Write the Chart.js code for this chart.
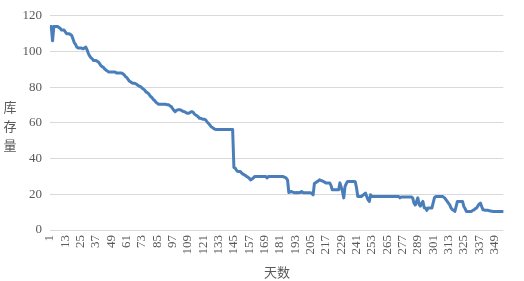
<!DOCTYPE html>
<html>
<head>
<meta charset="utf-8">
<script src="https://cdn.jsdelivr.net/npm/chart.js@4.4.1/dist/chart.umd.min.js"></script>
<style>
  html, body { margin: 0; padding: 0; background: #fff; }
  #wrap { width: 524px; height: 281px; position: relative; }
</style>
</head>
<body>
<div id="wrap"><canvas id="my-chart"></canvas></div>
<script>
// 库存量 per day
const stock = [
  114,114,106,114,114,114,114,113.5,113,112, 112,112,111,110,110,110,109.5,109,107,105,
  104,102.5,102,102,102,101.8,101.5,102,102.5,101, 99,97.5,96.5,96,95,95,95,94.5,94,93,
  92,91.5,91,90,89.5,89,88.5,88.5,88.5,88.5, 88.5,88.5,88,88,88,88,88,87.5,87,86,
  85.5,84.5,83.5,83,82.5,82.2,82.2,82,81.5,81, 80.5,80.3,79.5,79,78.5,77.5,77,76.5,75.5,74.7,
  74,73,72.5,71.5,71,70.5,70.5,70.5,70.5,70.5, 70.5,70.3,70.1,70.1,69.5,69.1,68,67,66.3,67,
  67.3,67.3,67.3,67,66.5,66.3,66,65.5,65.4,65.5, 66,66.3,66,65,64.5,64,63.5,62.6,62.6,62.3,
  62,62,61.6,60.5,59.8,59,58,57.5,57,56.5, 56.3,56.3,56.3,56.3,56.3,56.3,56.3,56.3,56.3,56.3,
  56.3,56.3,56.3,56.3,35,34.7,33.5,32.8,32.8,32.8, 32,31.3,31,30.5,30,29.5,29,28.1,28.5,29,
  29.8,30,30,30,30,30,30,30,30,30, 29.2,30,30,30,30,30,30,30,30,30,
  30,30,30,29.8,29.5,29,28,21,21.3,21.6, 21.2,21,20.8,21,20.8,21,21,21.6,21,20.8,
  20.8,20.8,20.8,20.8,20.8,20.5,19.7,26,26.5,27, 27.5,28.1,27.8,27.5,27.2,26.8,26.4,26.4,26.4,26.4,
  25,22.5,22.5,22.5,22.5,22.5,22.5,26.4,24,21.6, 18,24.4,26,27.2,27.2,27.2,27.2,27.2,27.2,27,
  23.7,18.8,18.8,18.8,18.8,19.5,20,20.7,18.8,17, 16,19.7,18.8,18.8,18.8,18.8,18.8,18.8,18.8,18.8,
  18.8,18.8,18.8,18.8,18.8,18.8,18.8,18.8,18.8,18.8, 18.8,18.8,18.8,18.8,18,18.5,18.5,18.5,18.5,18.5,
  18.5,18.5,18.5,18.5,18,15,14,16,18,14.3, 13.4,15,16,12.5,12.3,11,12.3,12.3,12.3,12.3,
  15.2,18,18.8,18.8,18.8,18.8,18.8,18.8,18.5,18, 17,16,15,14.1,12.3,11.5,11,10.4,13.2,16,
  16,16,16,16,13.2,12,10.4,10.4,10.4,10.4, 10.4,11,11.3,12,12.3,13.5,14.5,15.1,13.2,11.3,
  11.2,11,11,11,10.8,10.6,10.5,10.4,10.4,10.4, 10.4,10.4,10.4,10.4,10.4,10.4
];

// 天数 1..N
const days = stock.map((v, i) => i + 1);

// labels shown on the x axis
const tickDays = [1,13,25,37,49,61,73,85,97,109,121,133,145,157,169,181,193,205,217,229,241,253,265,277,289,301,313,325,337,349];

const yTitle = ['库', '存', '量'];
const xTitle = '天数';

const grey = '#595959';
const serif = '"Liberation Serif", "Times New Roman", serif';
const cjk = '"Noto Sans CJK SC", sans-serif';

// axis titles: y one is stacked characters, not rotated
const titles = {
  id: 'titles',
  afterDraw(chart) {
    const ctx = chart.ctx;
    ctx.save();
    ctx.fillStyle = grey;
    ctx.font = '13px ' + cjk;
    ctx.textAlign = 'center';
    ctx.textBaseline = 'middle';
    yTitle.forEach((ch, i) => ctx.fillText(ch, 10, 107 + i * 19));
    ctx.fillText(xTitle, 277, 272);
    ctx.restore();
  }
};

new Chart(document.getElementById('my-chart'), {
  type: 'line',
  data: {
    labels: days,
    datasets: [{
      data: stock,
      borderColor: '#4a7ebb',
      borderWidth: 3,
      pointRadius: 0,
      tension: 0,
      fill: false,
      borderJoinStyle: 'round'
    }]
  },
  options: {
    responsive: true,
    maintainAspectRatio: false,
    animation: false,
    layout: { padding: { top: 15, right: 6, left: 0, bottom: 0 } },
    plugins: { legend: { display: false }, tooltip: { enabled: false } },
    scales: {
      x: {
        offset: false,
        grid: { display: false, drawTicks: false },
        border: { display: false },
        afterFit: (s) => { s.height = 51; },
        ticks: {
          autoSkip: false,
          minRotation: 90,
          maxRotation: 90,
          padding: 5,
          color: grey,
          font: { family: serif, size: 13 },
          callback: (v, i) => tickDays.includes(days[i]) ? String(days[i]) : ''
        }
      },
      y: {
        min: 0,
        max: 120,
        grid: { color: '#d9d9d9', lineWidth: 1, drawTicks: false },
        border: { display: false },
        afterFit: (s) => { s.width = 50; },
        ticks: {
          stepSize: 20,
          padding: 8,
          color: grey,
          font: { family: serif, size: 13 }
        }
      }
    }
  },
  plugins: [titles]
});
</script>
</body>
</html>
